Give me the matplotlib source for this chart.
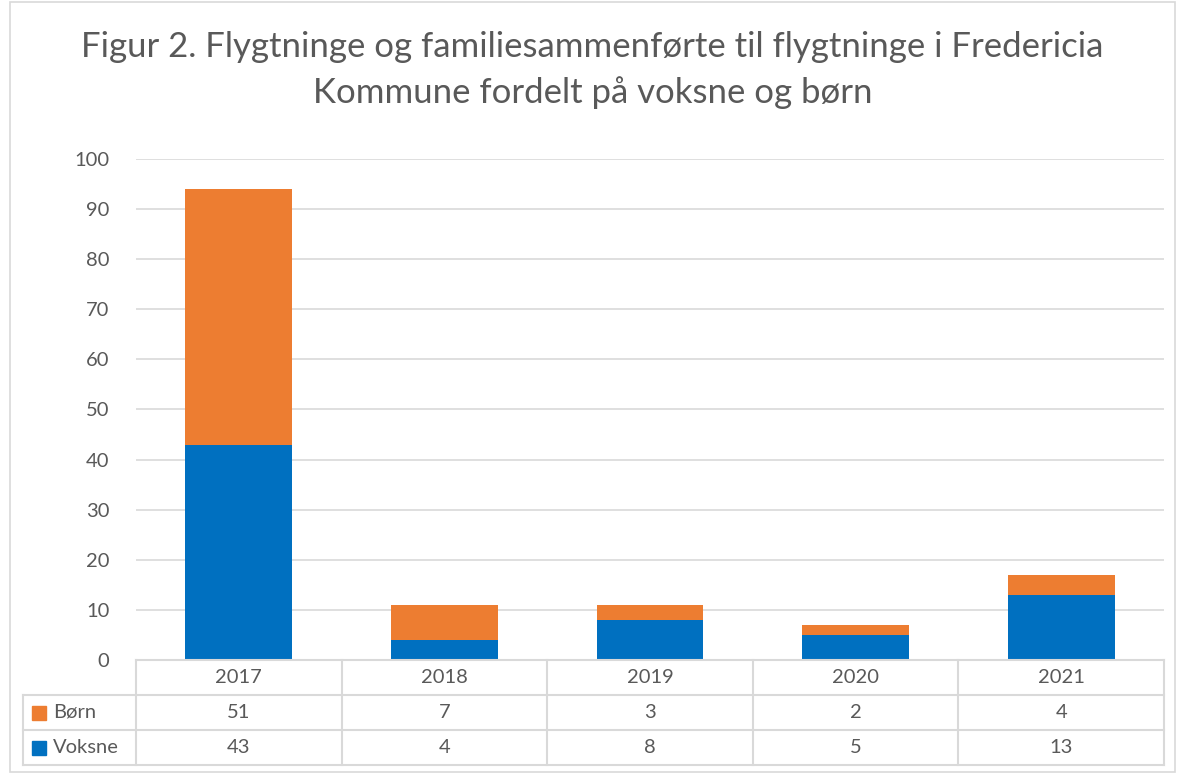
import matplotlib.pyplot as plt
from matplotlib.patches import Rectangle
import numpy as np

plt.rcParams['font.family'] = ['Lato', 'DejaVu Sans']

aar = ['2017', '2018', '2019', '2020', '2021']
born = [51, 7, 3, 2, 4]
voksne = [43, 4, 8, 5, 13]
serier = [('Børn', born, '#ED7D31'), ('Voksne', voksne, '#0070C0')]

tekstfarve = '#595959'
gitter = '#D9D9D9'

W, H = 1185, 775
fig = plt.figure(figsize=(W / 100, H / 100), dpi=100)

# plotomraade i pixels
x0, x1 = 136, 1164
y0, y1 = 660, 159
ax = fig.add_axes([x0 / W, 1 - y0 / H, (x1 - x0) / W, (y0 - y1) / H])

x = np.arange(len(aar))
ax.bar(x, voksne, width=0.52, color='#0070C0', zorder=3)
ax.bar(x, born, width=0.52, bottom=voksne, color='#ED7D31', zorder=3)

ax.set_xlim(-0.5, len(aar) - 0.5)
ax.set_ylim(0, 100)
ax.set_yticks(range(0, 101, 10))
ax.yaxis.grid(True, color=gitter, lw=1.2, zorder=0)
ax.set_xticks([])
for s in ax.spines.values():
    s.set_visible(False)
ax.tick_params(axis='y', length=0, pad=19, labelsize=14.5, labelcolor=tekstfarve)

# tabel under diagrammet
rk = [660, 695, 730, 765]
tabx0 = 23
kol = [x0 + (x1 - x0) * i / len(aar) for i in range(len(aar) + 1)]


def fy(p):
    return 1 - p / H


def fx(p):
    return p / W


def linje(xa, ya, xb, yb):
    fig.add_artist(plt.Line2D([fx(xa), fx(xb)], [fy(ya), fy(yb)], color=gitter, lw=1.5))


linje(x0, rk[0], x1, rk[0])
for r in rk[1:]:
    linje(tabx0, r, x1, r)
for c in kol:
    linje(c, rk[0], c, rk[3])
linje(tabx0, rk[1], tabx0, rk[3])

for i, a in enumerate(aar):
    cx = (kol[i] + kol[i + 1]) / 2
    fig.text(fx(cx), fy((rk[0] + rk[1]) / 2), a, ha='center', va='center',
             fontsize=14.5, color=tekstfarve)
    for j, (navn, vals, farve) in enumerate(serier):
        fig.text(fx(cx), fy((rk[j + 1] + rk[j + 2]) / 2), str(vals[i]), ha='center',
                 va='center', fontsize=14.5, color=tekstfarve)

for j, (navn, vals, farve) in enumerate(serier):
    cy = (rk[j + 1] + rk[j + 2]) / 2
    fig.add_artist(Rectangle((fx(32), fy(cy + 7)), 14 / W, 14 / H, color=farve))
    fig.text(fx(53), fy(cy), navn, ha='left', va='center', fontsize=14.5, color=tekstfarve)

# titel
fig.text(0.5, fy(47), 'Figur 2. Flygtninge og familiesammenførte til flygtninge i Fredericia',
         ha='center', va='center', fontsize=25, color=tekstfarve)
fig.text(0.5, fy(93), 'Kommune fordelt på voksne og børn',
         ha='center', va='center', fontsize=25, color=tekstfarve)

# ramme om diagrammet
fig.add_artist(Rectangle((fx(10), fy(772)), (W - 20) / W, 770 / H, fill=False,
                         edgecolor=gitter, lw=1.2))

fig.savefig('out.png', dpi=100)
